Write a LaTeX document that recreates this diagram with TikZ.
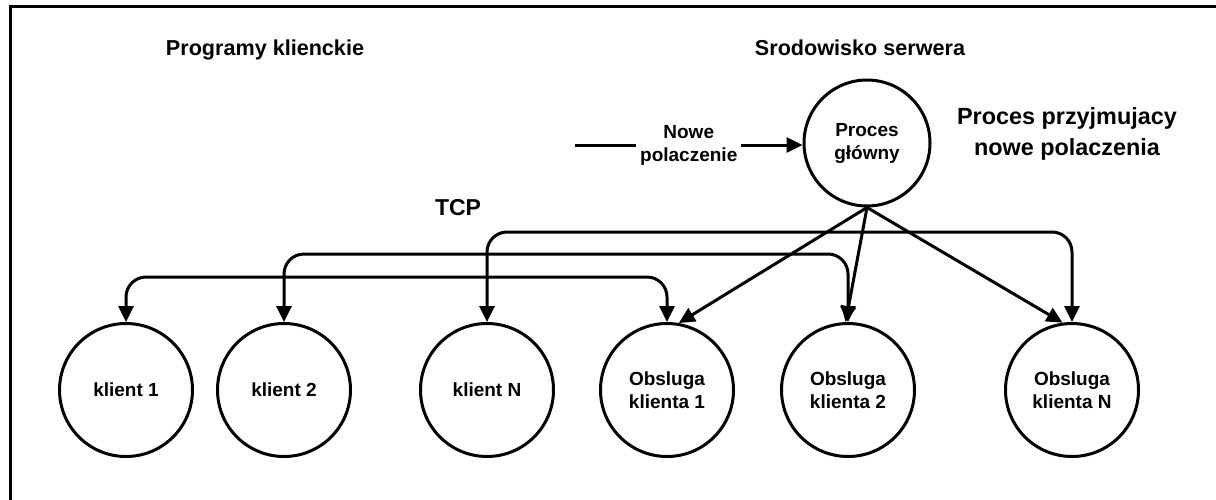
\documentclass[tikz,border=0pt]{standalone}
\usepackage{fontspec}
\setmainfont{Liberation Sans}
\usetikzlibrary{arrows.meta}
\begin{document}
\begin{tikzpicture}[x=1pt,y=-1pt,
  line width=3pt,
  >={Triangle[length=16pt,width=15pt]},
  bigcirc/.style={draw,circle,minimum size=133pt,inner sep=0pt,align=center,
    font=\fontsize{19}{23}\selectfont\bfseries},
  pgcirc/.style={draw,circle,minimum size=126pt,inner sep=0pt,align=center,
    font=\fontsize{19}{23}\selectfont\bfseries},
  heading/.style={font=\fontsize{21.6}{29}\selectfont\bfseries,align=center,inner sep=0pt},
  conn/.style={<->,rounded corners=20pt}
]
\useasboundingbox (0,0) rectangle (1216,499);
\clip (0,0) rectangle (1216,499);
\draw (10,6) rectangle (1230,520);

\node[heading,anchor=base] (h1) at (265,55) {Programy klienckie};
\node[heading,anchor=base] (h2) at (860,55) {Srodowisko serwera};
\node[heading,font=\fontsize{23.4}{31}\selectfont\bfseries] (h3) at (1067,134) {Proces przyjmujacy\\nowe polaczenia};
\node[heading,anchor=base,font=\fontsize{23}{29}\selectfont\bfseries] (tcp) at (458,215) {TCP};

\node[pgcirc] (pg) at (867,143) {Proces\\główny};

\node[bigcirc] (k1) at (126,390) {klient 1};
\node[bigcirc] (k2) at (284,390) {klient 2};
\node[bigcirc] (kN) at (487,390) {klient N};
\node[bigcirc] (o1) at (667,390) {Obsluga\\klienta 1};
\node[bigcirc] (o2) at (848,390) {Obsluga\\klienta 2};
\node[bigcirc] (oN) at (1072,390) {Obsluga\\klienta N};

\coordinate (ns) at (575,145);
\draw[->] (ns) -- node[fill=white,inner sep=4pt,align=center,
   font=\fontsize{19}{23}\selectfont\bfseries] (np) {Nowe\\polaczenie} (pg.west |- ns);

\coordinate (y1) at (0,277);
\coordinate (y2) at (0,254);
\coordinate (y3) at (0,232);
\draw[conn] (k1.north) -- (k1.north |- y1) -- (o1.north |- y1) -- (o1.north);
\draw[conn] (k2.north) -- (k2.north |- y2) -- (o2.north |- y2) -- (o2.north);
\draw[conn] (kN.north) -- (kN.north |- y3) -- (oN.north |- y3) -- (oN.north);

\draw[->] (pg.south) -- (o1.80);
\draw[->] (pg.south) -- (o2.92);
\draw[->] (pg.south) -- (oN.98);
\end{tikzpicture}
\end{document}
